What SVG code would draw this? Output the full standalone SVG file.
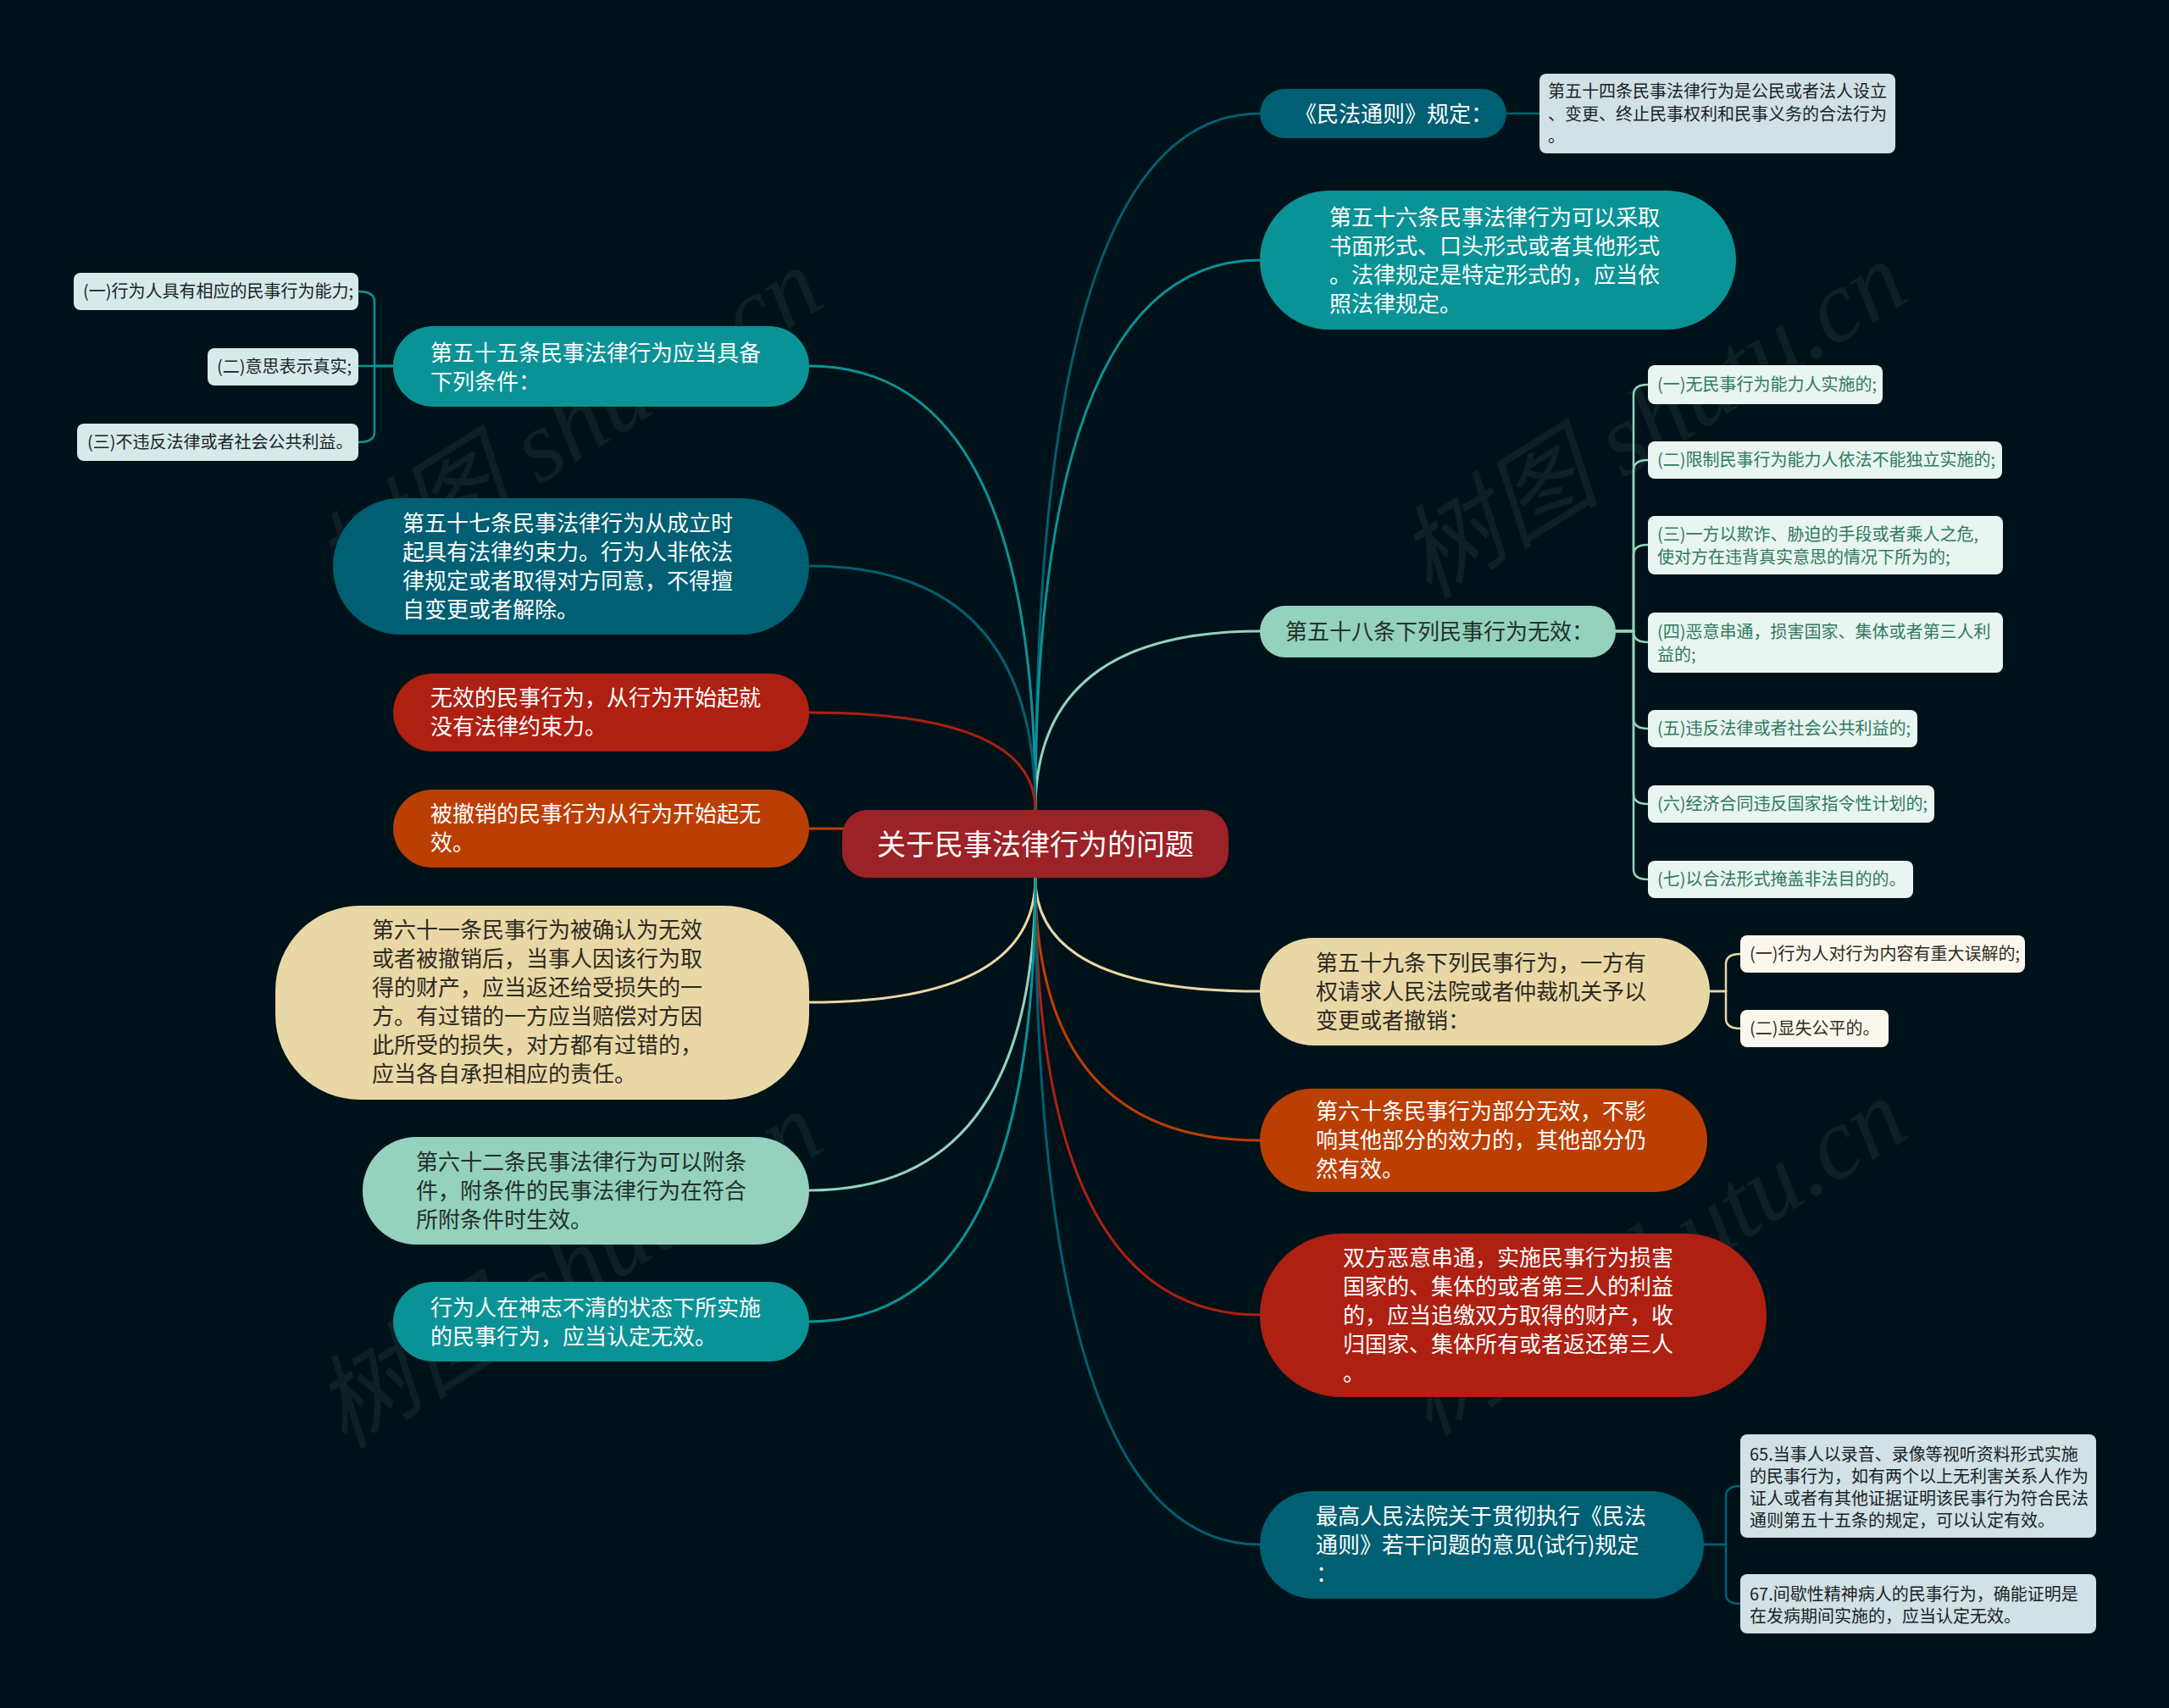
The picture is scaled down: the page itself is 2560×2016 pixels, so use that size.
<svg xmlns="http://www.w3.org/2000/svg" width="2560" height="2016" viewBox="0 0 2560 2016">
<style>
text{font-family:"Noto Sans CJK SC","Noto Sans",sans-serif;}
.t26{font-size:26px;}
.t20{font-size:20px;}
.w{fill:#ffffff;}
.d{fill:#24302c;}
.db{fill:#2e2a22;}
.dk{fill:#1c2226;}
.g{fill:#2f7a60;}
.c{fill:none;stroke-width:3;stroke-linecap:round;}
.cs{fill:none;stroke-width:2.5;stroke-linecap:round;}
.wm{font-family:"Liberation Serif","Noto Sans CJK SC",serif;font-style:italic;font-size:120px;fill:#ffffff;fill-opacity:0.055;}
</style>
<rect x="0" y="0" width="2560" height="2016" fill="#001219"/>
<g id="watermark">
<text class="wm" x="340" y="560" transform="rotate(-32 645 522)">树图 shutu.cn</text>
<text class="wm" x="1620" y="552" transform="rotate(-32 1926 514)">树图 shutu.cn</text>
<text class="wm" x="340" y="1556" transform="rotate(-32 645 1518)">树图 shutu.cn</text>
<text class="wm" x="1620" y="1540" transform="rotate(-32 1926 1502)">树图 shutu.cn</text>
</g>
<g id="connectors">
<path class="c" stroke="#005f73" d="M1222 956 Q1222 134 1487 134"/>
<path class="c" stroke="#0a9396" d="M1222 956 Q1222 307 1487 307"/>
<path class="c" stroke="#94d2bd" d="M1222 956 Q1222 745 1487 745"/>
<path class="c" stroke="#e9d8a6" d="M1222 1036 Q1222 1170 1487 1170"/>
<path class="c" stroke="#bb3e03" d="M1222 1036 Q1222 1346 1487 1346"/>
<path class="c" stroke="#ae2012" d="M1222 1036 Q1222 1552 1487 1552"/>
<path class="c" stroke="#005f73" d="M1222 1036 Q1222 1823 1487 1823"/>
<path class="c" stroke="#0a9396" d="M1222 956 Q1222 432 955 432"/>
<path class="c" stroke="#005f73" d="M1222 956 Q1222 668 955 668"/>
<path class="c" stroke="#ae2012" d="M1222 956 Q1222 841 955 841"/>
<path class="c" stroke="#bb3e03" d="M1222 978 H955"/>
<path class="c" stroke="#e9d8a6" d="M1222 1036 Q1222 1183 955 1183"/>
<path class="c" stroke="#94d2bd" d="M1222 1036 Q1222 1405 955 1405"/>
<path class="c" stroke="#0a9396" d="M1222 1036 Q1222 1560 955 1560"/>
<path class="cs" stroke="#005f73" d="M1778 134 H1817"/>
<path class="cs" stroke="#0a9396" d="M464 432 H442 V356 Q442 344 423 344"/>
<path class="cs" stroke="#0a9396" d="M464 432 H423"/>
<path class="cs" stroke="#0a9396" d="M464 432 H442 V510 Q442 522 423 522"/>
<path class="cs" stroke="#94d2bd" d="M1907 745 H1928 V466 Q1928 454 1945 454"/>
<path class="cs" stroke="#94d2bd" d="M1907 745 H1928 V555 Q1928 543 1945 543"/>
<path class="cs" stroke="#94d2bd" d="M1907 745 H1928 V655 Q1928 643 1945 643"/>
<path class="cs" stroke="#94d2bd" d="M1907 745 H1928 V746 Q1928 758 1945 758"/>
<path class="cs" stroke="#94d2bd" d="M1907 745 H1928 V848 Q1928 860 1945 860"/>
<path class="cs" stroke="#94d2bd" d="M1907 745 H1928 V937 Q1928 949 1945 949"/>
<path class="cs" stroke="#94d2bd" d="M1907 745 H1928 V1026 Q1928 1038 1945 1038"/>
<path class="cs" stroke="#e9d8a6" d="M2018 1170 H2037 V1138 Q2037 1126 2054 1126"/>
<path class="cs" stroke="#e9d8a6" d="M2018 1170 H2037 V1202 Q2037 1214 2054 1214"/>
<path class="cs" stroke="#005f73" d="M2011 1823 H2037 V1766 Q2037 1754 2054 1754"/>
<path class="cs" stroke="#005f73" d="M2011 1823 H2037 V1881 Q2037 1893 2054 1893"/>
</g>
<g id="center">
<rect x="994" y="956" width="456" height="80" rx="30" fill="#9b2226"/>
<text x="1222" y="1009" text-anchor="middle" font-size="34" class="w">关于民事法律行为的问题</text>
</g>
<g id="n-minfa">
<rect x="1487" y="105" width="291" height="58" rx="29" fill="#005f73"/>
<text class="t26 w" x="1528" y="144">《民法通则》规定：</text>
</g>
<g id="n-minfa-1">
<rect x="1817" y="87" width="420" height="94" rx="8" fill="#d1e1e5"/>
<text class="t20 dk"><tspan x="1827" y="115">第五十四条民事法律行为是公民或者法人设立</tspan><tspan x="1827" y="142">、变更、终止民事权利和民事义务的合法行为</tspan><tspan x="1827" y="168">。</tspan></text>
</g>
<g id="n-56">
<rect x="1487" y="225" width="562" height="164" rx="82" fill="#0a9396"/>
<text class="t26 w"><tspan x="1569" y="266">第五十六条民事法律行为可以采取</tspan><tspan x="1569" y="300">书面形式、口头形式或者其他形式</tspan><tspan x="1569" y="334">。法律规定是特定形式的，应当依</tspan><tspan x="1569" y="368">照法律规定。</tspan></text>
</g>
<g id="n-58">
<rect x="1487" y="715" width="420" height="61" rx="30" fill="#94d2bd"/>
<text class="t26 d" x="1517" y="755">第五十八条下列民事行为无效：</text>
</g>
<g id="n-58-1"><rect x="1945" y="431" width="277" height="46" rx="8" fill="#e9f5f0"/><text class="t20 g" x="1956" y="461">(一)无民事行为能力人实施的;</text></g>
<g id="n-58-2"><rect x="1945" y="521" width="418" height="44" rx="8" fill="#e9f5f0"/><text class="t20 g" x="1956" y="550">(二)限制民事行为能力人依法不能独立实施的;</text></g>
<g id="n-58-3"><rect x="1945" y="609" width="419" height="69" rx="8" fill="#e9f5f0"/><text class="t20 g"><tspan x="1956" y="638">(三)一方以欺诈、胁迫的手段或者乘人之危,</tspan><tspan x="1956" y="665">使对方在违背真实意思的情况下所为的;</tspan></text></g>
<g id="n-58-4"><rect x="1945" y="723" width="419" height="71" rx="8" fill="#e9f5f0"/><text class="t20 g"><tspan x="1956" y="753">(四)恶意串通，损害国家、集体或者第三人利</tspan><tspan x="1956" y="780">益的;</tspan></text></g>
<g id="n-58-5"><rect x="1945" y="838" width="318" height="44" rx="8" fill="#e9f5f0"/><text class="t20 g" x="1956" y="867">(五)违反法律或者社会公共利益的;</text></g>
<g id="n-58-6"><rect x="1945" y="927" width="338" height="44" rx="8" fill="#e9f5f0"/><text class="t20 g" x="1956" y="956">(六)经济合同违反国家指令性计划的;</text></g>
<g id="n-58-7"><rect x="1945" y="1016" width="313" height="44" rx="8" fill="#e9f5f0"/><text class="t20 g" x="1956" y="1045">(七)以合法形式掩盖非法目的的。</text></g>
<g id="n-59">
<rect x="1487" y="1107" width="531" height="127" rx="63" fill="#e9d8a6"/>
<text class="t26 db"><tspan x="1553" y="1146">第五十九条下列民事行为，一方有</tspan><tspan x="1553" y="1180">权请求人民法院或者仲裁机关予以</tspan><tspan x="1553" y="1214">变更或者撤销：</tspan></text>
</g>
<g id="n-59-1"><rect x="2054" y="1104" width="336" height="44" rx="8" fill="#fbf7ec"/><text class="t20 db" x="2065" y="1133">(一)行为人对行为内容有重大误解的;</text></g>
<g id="n-59-2"><rect x="2054" y="1192" width="175" height="44" rx="8" fill="#fbf7ec"/><text class="t20 db" x="2065" y="1221">(二)显失公平的。</text></g>
<g id="n-60">
<rect x="1487" y="1285" width="528" height="122" rx="61" fill="#bb3e03"/>
<text class="t26 w"><tspan x="1553" y="1321">第六十条民事行为部分无效，不影</tspan><tspan x="1553" y="1355">响其他部分的效力的，其他部分仍</tspan><tspan x="1553" y="1389">然有效。</tspan></text>
</g>
<g id="n-shuangfang">
<rect x="1487" y="1456" width="598" height="193" rx="96" fill="#ae2012"/>
<text class="t26 w"><tspan x="1585" y="1494">双方恶意串通，实施民事行为损害</tspan><tspan x="1585" y="1528">国家的、集体的或者第三人的利益</tspan><tspan x="1585" y="1562">的，应当追缴双方取得的财产，收</tspan><tspan x="1585" y="1596">归国家、集体所有或者返还第三人</tspan><tspan x="1585" y="1630">。</tspan></text>
</g>
<g id="n-zuigao">
<rect x="1487" y="1760" width="524" height="127" rx="63" fill="#005f73"/>
<text class="t26 w"><tspan x="1553" y="1799">最高人民法院关于贯彻执行《民法</tspan><tspan x="1553" y="1833">通则》若干问题的意见(试行)规定</tspan><tspan x="1553" y="1867">：</tspan></text>
</g>
<g id="n-zuigao-1"><rect x="2054" y="1693" width="420" height="122" rx="8" fill="#d1e1e5"/><text class="t20 dk"><tspan x="2065" y="1724">65.当事人以录音、录像等视听资料形式实施</tspan><tspan x="2065" y="1750">的民事行为，如有两个以上无利害关系人作为</tspan><tspan x="2065" y="1776">证人或者有其他证据证明该民事行为符合民法</tspan><tspan x="2065" y="1802">通则第五十五条的规定，可以认定有效。</tspan></text></g>
<g id="n-zuigao-2"><rect x="2054" y="1858" width="420" height="70" rx="8" fill="#d1e1e5"/><text class="t20 dk"><tspan x="2065" y="1889">67.间歇性精神病人的民事行为，确能证明是</tspan><tspan x="2065" y="1915">在发病期间实施的，应当认定无效。</tspan></text></g>
<g id="n-55">
<rect x="464" y="385" width="491" height="95" rx="47" fill="#0a9396"/>
<text class="t26 w"><tspan x="508" y="426">第五十五条民事法律行为应当具备</tspan><tspan x="508" y="460">下列条件：</tspan></text>
</g>
<g id="n-55-1"><rect x="87" y="322" width="336" height="44" rx="8" fill="#d6eaea"/><text class="t20 dk" x="98" y="351">(一)行为人具有相应的民事行为能力;</text></g>
<g id="n-55-2"><rect x="245" y="411" width="178" height="44" rx="8" fill="#d6eaea"/><text class="t20 dk" x="256" y="440">(二)意思表示真实;</text></g>
<g id="n-55-3"><rect x="91" y="500" width="332" height="44" rx="8" fill="#d6eaea"/><text class="t20 dk" x="103" y="529">(三)不违反法律或者社会公共利益。</text></g>
<g id="n-57">
<rect x="393" y="588" width="562" height="161" rx="80" fill="#005f73"/>
<text class="t26 w"><tspan x="475" y="627">第五十七条民事法律行为从成立时</tspan><tspan x="475" y="661">起具有法律约束力。行为人非依法</tspan><tspan x="475" y="695">律规定或者取得对方同意，不得擅</tspan><tspan x="475" y="729">自变更或者解除。</tspan></text>
</g>
<g id="n-wuxiao">
<rect x="464" y="795" width="491" height="92" rx="46" fill="#ae2012"/>
<text class="t26 w"><tspan x="508" y="833">无效的民事行为，从行为开始起就</tspan><tspan x="508" y="867">没有法律约束力。</tspan></text>
</g>
<g id="n-chexiao">
<rect x="464" y="932" width="491" height="92" rx="46" fill="#bb3e03"/>
<text class="t26 w"><tspan x="508" y="970">被撤销的民事行为从行为开始起无</tspan><tspan x="508" y="1004">效。</tspan></text>
</g>
<g id="n-61">
<rect x="325" y="1069" width="630" height="229" rx="100" fill="#e9d8a6"/>
<text class="t26 db"><tspan x="439" y="1107">第六十一条民事行为被确认为无效</tspan><tspan x="439" y="1141">或者被撤销后，当事人因该行为取</tspan><tspan x="439" y="1175">得的财产，应当返还给受损失的一</tspan><tspan x="439" y="1209">方。有过错的一方应当赔偿对方因</tspan><tspan x="439" y="1243">此所受的损失，对方都有过错的，</tspan><tspan x="439" y="1277">应当各自承担相应的责任。</tspan></text>
</g>
<g id="n-62">
<rect x="428" y="1342" width="527" height="127" rx="63" fill="#94d2bd"/>
<text class="t26 d"><tspan x="491" y="1381">第六十二条民事法律行为可以附条</tspan><tspan x="491" y="1415">件，附条件的民事法律行为在符合</tspan><tspan x="491" y="1449">所附条件时生效。</tspan></text>
</g>
<g id="n-shenzhi">
<rect x="464" y="1513" width="491" height="94" rx="47" fill="#0a9396"/>
<text class="t26 w"><tspan x="508" y="1553">行为人在神志不清的状态下所实施</tspan><tspan x="508" y="1587">的民事行为，应当认定无效。</tspan></text>
</g>
</svg>
